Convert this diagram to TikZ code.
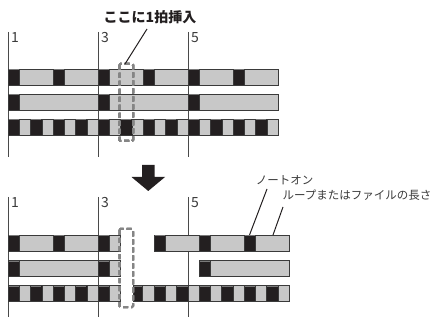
\documentclass[tikz,border=0pt]{standalone}
\usepackage{fontspec}
\setmainfont{Noto Sans CJK JP}
\definecolor{barGray}{HTML}{C8C8C8}
\definecolor{barEdge}{HTML}{3A3A3A}
\definecolor{noteBlack}{HTML}{231F20}
\definecolor{noteTop}{HTML}{7A7A7A}
\definecolor{lineGray}{HTML}{4A4A4A}
\definecolor{dashGray}{HTML}{858585}
\tikzset{
  gbar/.style={fill=barGray, draw=barEdge, line width=0.8pt},
  nblk/.style={fill=noteBlack, draw=barEdge, line width=0.6pt},
  ntop/.style={draw=noteTop, line width=1pt},
  beatline/.style={draw=lineGray, line width=0.8pt},
  beatlabel/.style={anchor=north west, inner sep=0pt, font=\fontsize{14}{14}\selectfont, text=barEdge},
  insbox/.style={draw=dashGray, line width=2pt, dash pattern=on 5pt off 3pt, rounded corners=1pt},
  leader/.style={draw=noteBlack, line width=1pt},
  lbl/.style={inner sep=0pt, font=\fontsize{11.5}{12}\selectfont, text=barEdge}
}
\newcommand{\mynote}[2]{%
  \path[nblk] (#1,#2) rectangle ++(11.5,16);
  \path[ntop] (#1+0.6,#2+1) -- ++(10.3,0);}
\begin{document}
\begin{tikzpicture}[x=1pt,y=-1pt]
\useasboundingbox (0,0) rectangle (440,321);
% ---------- top part ----------
\foreach \x in {8,98,188} \path[beatline] (\x,32) -- (\x,157);
\node[beatlabel] (t1) at (11,32) {1};
\node[beatlabel] (t3) at (101,32) {3};
\node[beatlabel] (t5) at (191,32) {5};
% row 1
\path[gbar] (8,69) rectangle (278,85);
\foreach \x in {8,53,98,143,188,233} \mynote{\x}{69}
% row 2
\path[gbar] (8,94) rectangle (278,110);
\foreach \x in {8,98,188} \mynote{\x}{94}
% row 3
\path[gbar] (8,119) rectangle (278,135);
\foreach \k in {0,...,11} \mynote{8+22.5*\k}{119}
% insertion box
\path[insbox] (119.5,64) rectangle (133,141);
\coordinate (boxtop) at (125,64);
\node[inner sep=0pt, font=\fontsize{14}{14}\selectfont\bfseries, text=noteBlack] (ins) at (150,17) {ここに1拍挿入};
\coordinate (insl) at (147,29);
\path[leader] (insl) -- (boxtop);
% ---------- arrow ----------
\path[fill=noteBlack] (142,165) -- (154.5,165) -- (154.5,177) -- (165,177) -- (148.25,191) -- (131.5,177) -- (142,177) -- cycle;
% ---------- bottom part ----------
\foreach \x in {8,98,188} \path[beatline] (\x,197) -- (\x,317);
\node[beatlabel] (b1) at (11,197) {1};
\node[beatlabel] (b3) at (101,197) {3};
\node[beatlabel] (b5) at (191,197) {5};
% row 1
\path[gbar] (8,235) rectangle (120,251);
\foreach \x in {8,53,98} \mynote{\x}{235}
\path[gbar] (154.25,235) rectangle (289.25,251);
\foreach \x in {154.25,199.25,244.25} \mynote{\x}{235}
% row 2
\path[gbar] (8,260) rectangle (120,276);
\foreach \x in {8,98} \mynote{\x}{260}
\path[gbar] (199.25,260) rectangle (289.25,276);
\mynote{199.25}{260}
% row 3
\path[gbar] (8,285) rectangle (120,301);
\foreach \k in {0,...,4} \mynote{8+22.5*\k}{285}
\path[gbar] (133,285) rectangle (289.25,301);
\path[nblk] (133,285) rectangle (142.75,301);
\path[ntop] (133.6,286) -- (142.2,286);
\foreach \k in {0,...,5} \mynote{154.25+22.5*\k}{285}
% insertion box
\path[insbox] (119.5,229) rectangle (133,307);
% labels
\node[lbl] (noteon) at (284.5,180) {ノートオン};
\node[lbl] (looplen) at (357,195) {ループまたはファイルの長さ};
\coordinate (noteonS) at (267,189);
\coordinate (noteonE) at (249.5,235);
\coordinate (loopS) at (283,207);
\coordinate (loopE) at (273,235);
\path[leader] (noteonS) -- (noteonE);
\path[leader] (loopS) -- (loopE);
\end{tikzpicture}
\end{document}
